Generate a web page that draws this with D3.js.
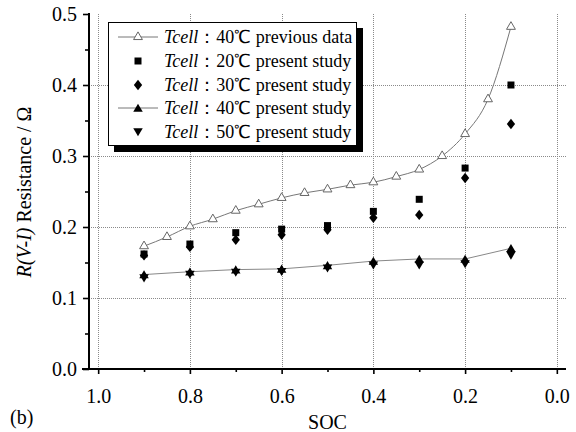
<!DOCTYPE html>
<html>
<head>
<meta charset="utf-8">
<script src="https://cdn.jsdelivr.net/npm/d3@7"></script>
<style>
  body { margin: 0; background: #fff; }
</style>
</head>
<body>
<div id="chart"></div>
<script>
// data
var socPrev = [0.9, 0.85, 0.8, 0.75, 0.7, 0.65, 0.6, 0.55, 0.5, 0.45, 0.4, 0.35, 0.3, 0.25, 0.2, 0.15, 0.1];
var rPrev = [0.173, 0.186, 0.201, 0.211, 0.223, 0.232, 0.241, 0.248, 0.253, 0.259, 0.263, 0.271, 0.281, 0.300, 0.331, 0.380, 0.482];

var socNow = [0.9, 0.8, 0.7, 0.6, 0.5, 0.4, 0.3, 0.2, 0.1];
var r20 = [0.162, 0.176, 0.192, 0.197, 0.202, 0.222, 0.239, 0.283, 0.400];
var r30 = [0.160, 0.172, 0.182, 0.189, 0.196, 0.213, 0.217, 0.269, 0.345];
var r40 = [0.133, 0.137, 0.140, 0.141, 0.146, 0.152, 0.155, 0.155, 0.170];
var r50 = [0.128, 0.133, 0.136, 0.137, 0.142, 0.146, 0.146, 0.148, 0.160];

var xTicks = [1.0, 0.8, 0.6, 0.4, 0.2, 0.0];
var xMinor = [0.9, 0.7, 0.5, 0.3, 0.1];
var yTicks = [0.0, 0.1, 0.2, 0.3, 0.4, 0.5];
var yMinor = [0.05, 0.15, 0.25, 0.35, 0.45];

var legendLabels = ["：40℃ previous data", "：20℃ present study", "：30℃ present study",
  "：40℃ present study", "：50℃ present study"];

var W = 576, H = 432;
var serif = "'Liberation Serif', 'Times New Roman', Times, serif";

var svg = d3.select("#chart").append("svg")
  .attr("width", W)
  .attr("height", H);

var x = d3.scaleLinear().domain([1.02, -0.02]).range([89, 566]);
var y = d3.scaleLinear().domain([0, 0.5]).range([369, 14]);

// custom marker shapes
var diamond = {
  draw: function (ctx, size) {
    var h = Math.sqrt(size) * 0.62, w = h * 0.8;
    ctx.moveTo(0, -h); ctx.lineTo(w, 0); ctx.lineTo(0, h); ctx.lineTo(-w, 0); ctx.closePath();
  }
};
var triDown = {
  draw: function (ctx, size) {
    var s = Math.sqrt(size) * 0.75;
    ctx.moveTo(-s, -s * 0.8); ctx.lineTo(s, -s * 0.8); ctx.lineTo(0, s * 0.9); ctx.closePath();
  }
};
var triUp = {
  draw: function (ctx, size) {
    var s = Math.sqrt(size) * 0.75;
    ctx.moveTo(-s, s * 0.8); ctx.lineTo(s, s * 0.8); ctx.lineTo(0, -s * 0.9); ctx.closePath();
  }
};

// grid
var grid = svg.append("g").attr("stroke", "#8a8a8a").attr("stroke-width", 1).attr("stroke-dasharray", "1,1");
grid.selectAll("line.v").data(xTicks).enter().append("line")
  .attr("x1", function (d) { return Math.round(x(d)) + 0.5; })
  .attr("x2", function (d) { return Math.round(x(d)) + 0.5; })
  .attr("y1", y(0.5)).attr("y2", y(0));
grid.selectAll("line.h").data(yTicks.slice(1, 5)).enter().append("line")
  .attr("x1", x.range()[0]).attr("x2", x.range()[1])
  .attr("y1", function (d) { return Math.round(y(d)) + 0.5; })
  .attr("y2", function (d) { return Math.round(y(d)) + 0.5; });

// axes
var fmt = d3.format(".1f");
svg.append("g").attr("transform", "translate(" + x.range()[0] + ",0)")
  .call(d3.axisLeft(y).tickValues(yTicks).tickSize(6).tickSizeOuter(0).tickPadding(6).tickFormat(fmt));
svg.append("g").attr("transform", "translate(" + x.range()[0] + ",0)")
  .call(d3.axisLeft(y).tickValues(yMinor).tickSize(4).tickFormat(""));
svg.append("g").attr("transform", "translate(0," + y(0) + ")")
  .call(d3.axisBottom(x).tickValues(xTicks).tickSize(5).tickSizeOuter(0).tickPadding(15).tickFormat(fmt));
svg.append("g").attr("transform", "translate(0," + y(0) + ")")
  .call(d3.axisBottom(x).tickValues(xMinor).tickSize(3).tickFormat(""));

svg.selectAll(".domain").remove();
svg.selectAll(".tick line").attr("stroke", "#000").attr("stroke-width", 1.6);
svg.selectAll(".tick text").attr("font-size", 20);

// axis lines
svg.append("line")
  .attr("x1", x.range()[0]).attr("x2", x.range()[0])
  .attr("y1", y(0.5) - 1).attr("y2", y(0) + 1)
  .attr("stroke", "#000").attr("stroke-width", 2);
svg.append("line")
  .attr("x1", x.range()[0] - 7).attr("x2", x.range()[1])
  .attr("y1", y(0)).attr("y2", y(0))
  .attr("stroke", "#000").attr("stroke-width", 2);

// lines
var linePrev = d3.line().x(function (d, i) { return x(socPrev[i]); }).y(function (d) { return y(d); })
  .curve(d3.curveMonotoneX);
svg.append("path").attr("d", linePrev(rPrev))
  .attr("fill", "none").attr("stroke", "#777").attr("stroke-width", 1);

var line40 = d3.line().x(function (d, i) { return x(socNow[i]); }).y(function (d) { return y(d); });
svg.append("path").attr("d", line40(r40))
  .attr("fill", "none").attr("stroke", "#888").attr("stroke-width", 1);

// markers
function drawMarks(vals, socs, type, size, fill, stroke) {
  svg.append("g").selectAll("path").data(vals).enter().append("path")
    .attr("transform", function (d, i) { return "translate(" + x(socs[i]) + "," + y(d) + ")"; })
    .attr("d", d3.symbol().type(type).size(size))
    .attr("fill", fill)
    .attr("stroke", stroke)
    .attr("stroke-width", 1);
}
drawMarks(r20, socNow, d3.symbolSquare, 49, "#000", "none");
drawMarks(r30, socNow, diamond, 70, "#000", "none");
drawMarks(r50, socNow, triDown, 40, "#000", "none");
drawMarks(r40, socNow, triUp, 40, "#000", "none");
drawMarks(rPrev, socPrev, d3.symbolTriangle, 34, "#fff", "#666");

// legend
var lg = svg.append("g");
lg.append("rect").attr("x", 114).attr("y", 28).attr("width", 249).attr("height", 124).attr("fill", "#000");
lg.append("rect").attr("x", 108.5).attr("y", 22.5).attr("width", 248).attr("height", 123)
  .attr("fill", "#fff").attr("stroke", "#000").attr("stroke-width", 1);

var legTypes = [d3.symbolTriangle, d3.symbolSquare, diamond, triUp, triDown];
var legSizes = [34, 49, 70, 40, 40];
var legHasLine = [true, false, false, true, false];
var rowY = [37, 61, 85, 108, 132];

legendLabels.forEach(function (lab, i) {
  var row = lg.append("g").attr("transform", "translate(0," + rowY[i] + ")");
  if (legHasLine[i]) {
    row.append("line").attr("x1", 118).attr("x2", 158).attr("y1", 0).attr("y2", 0)
      .attr("stroke", "#777").attr("stroke-width", 1);
  }
  row.append("path").attr("transform", "translate(138,0)")
    .attr("d", d3.symbol().type(legTypes[i]).size(legSizes[i]))
    .attr("fill", i === 0 ? "#fff" : "#000")
    .attr("stroke", i === 0 ? "#666" : "none");
  var t = row.append("text").attr("x", 164).attr("y", 6).attr("font-size", 18);
  t.append("tspan").attr("font-style", "italic").text("Tcell");
  t.append("tspan").text(lab);
});

// axis titles
svg.append("text").attr("x", (x.range()[0] + x.range()[1]) / 2).attr("y", 429)
  .attr("text-anchor", "middle").attr("font-size", 20).text("SOC");
svg.append("text").attr("x", 10).attr("y", 424).attr("font-size", 20).text("(b)");

var yl = svg.append("text").attr("transform", "translate(31,192) rotate(-90)")
  .attr("text-anchor", "middle").attr("font-size", 20);
yl.append("tspan").attr("font-style", "italic").text("R(V-I)");
yl.append("tspan").text(" Resistance / Ω");

// all text in a Times-like serif face
svg.selectAll("g").attr("font-family", null);
svg.selectAll("text").style("font-family", serif).style("fill", "#000");
</script>
</body>
</html>
